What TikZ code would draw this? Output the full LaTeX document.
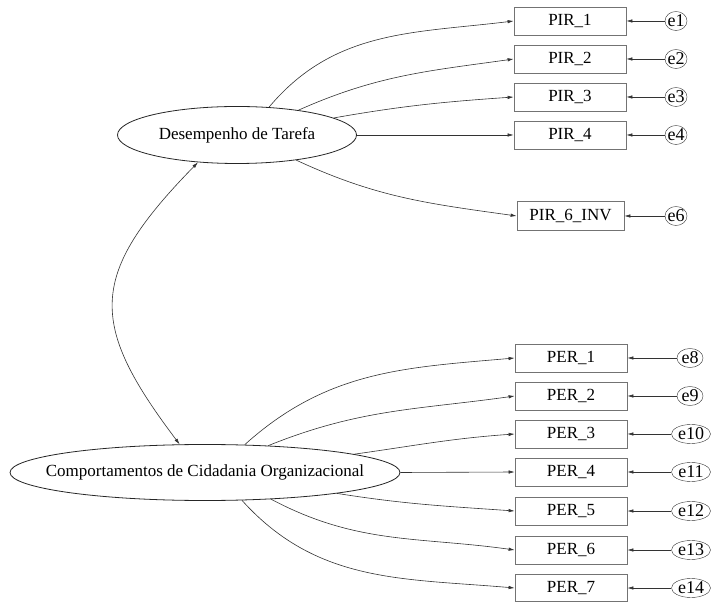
\documentclass[tikz,border=0pt]{standalone}
\usepackage{fontspec}
\setmainfont{Liberation Serif}
\usepackage{tikz}
\usetikzlibrary{shapes.geometric,arrows.meta}

\begin{document}
\begin{tikzpicture}[x=1pt,y=1pt,
    font=\fontsize{17}{20}\selectfont,
    latent/.style={ellipse, draw=black!85, thick, inner sep=0pt},
    obs/.style={rectangle, draw=black!55, thick, inner sep=0pt, minimum width=112pt, minimum height=28pt},
    err/.style={ellipse, draw=black!80, font=\fontsize{18}{20}\selectfont, inner ysep=-3pt, inner xsep=-2pt,
                minimum width=22pt, minimum height=19pt},
    arr/.style={draw=black!80, line width=0.6pt, -{Latex[length=6pt,width=3.5pt]}},
    biarr/.style={draw=black!80, line width=0.6pt, {Latex[length=6pt,width=3.5pt]}-{Latex[length=6pt,width=3.5pt]}}]
  \useasboundingbox (0,0) rectangle (711,602);

  % ---- Latent variables ----
  \node[latent, minimum width=239pt, minimum height=57pt,
        label=center:{Desempenho de Tarefa}] (dt) at (237,467) {};
  \node[latent, minimum width=390pt, minimum height=56pt,
        label=center:{Comportamentos de Cidadania Organizacional}] (cco) at (205,129.5) {};

  % ---- Indicators of Desempenho de Tarefa ----
  \node[obs] (pir1) at (570,581) {PIR\_1};
  \node[obs] (pir2) at (570,543) {PIR\_2};
  \node[obs] (pir3) at (570,505) {PIR\_3};
  \node[obs] (pir4) at (570,467) {PIR\_4};
  \node[obs, minimum width=107pt, minimum height=29pt] (pir6) at (570.5,386) {PIR\_6\_INV};

  \node[err] (e1) at (676,581) {e1};
  \node[err] (e2) at (676,543) {e2};
  \node[err] (e3) at (676,505) {e3};
  \node[err] (e4) at (676,467) {e4};
  \node[err] (e6) at (676,386) {e6};

  \draw[arr] (dt.41.5) to[out=50, in=187] (pir1.west);
  \draw[arr] (dt.22) to[out=24, in=188] (pir2.west);
  \draw[arr] (dt.10.5) to[out=10, in=184] (pir3.west);
  \draw[arr] (dt.east) -- (pir4.west);
  \draw[arr] (dt.-23) to[out=-25, in=172] (pir6.west);

  \draw[arr] (e1) -- (pir1);
  \draw[arr] (e2) -- (pir2);
  \draw[arr] (e3) -- (pir3);
  \draw[arr] (e4) -- (pir4);
  \draw[arr] (e6) -- (pir6);

  % ---- Indicators of Comportamentos de Cidadania Organizacional ----
  \node[obs] (per1) at (571,244) {PER\_1};
  \node[obs] (per2) at (571,206) {PER\_2};
  \node[obs] (per3) at (571,168) {PER\_3};
  \node[obs] (per4) at (571,130) {PER\_4};
  \node[obs] (per5) at (571,91) {PER\_5};
  \node[obs] (per6) at (571,52) {PER\_6};
  \node[obs, minimum height=27pt] (per7) at (571,14) {PER\_7};

  \node[err, minimum width=26pt] (e8) at (690,244) {e8};
  \node[err, minimum width=26pt] (e9) at (690,206) {e9};
  \node[err, minimum width=39pt] (e10) at (691,168) {e10};
  \node[err, minimum width=39pt] (e11) at (691,130) {e11};
  \node[err, minimum width=39pt] (e12) at (691,91) {e12};
  \node[err, minimum width=39pt] (e13) at (691,52) {e13};
  \node[err, minimum width=39pt] (e14) at (691,14) {e14};

  \draw[arr] (cco.35) to[out=42, in=185] (per1.west);
  \draw[arr] (cco.23) to[out=22, in=188] (per2.west);
  \draw[arr] (cco.7.2) to[out=8, in=184] (per3.west);
  \draw[arr] (cco.east) -- (per4.west);
  \draw[arr] (cco.-9) to[out=-9, in=176] (per5.west);
  \draw[arr] (cco.-22) to[out=-28, in=172] (per6.west);
  \draw[arr] (cco.-37) to[out=-48, in=175] (per7.west);

  \draw[arr] (e8) -- (per1);
  \draw[arr] (e9) -- (per2);
  \draw[arr] (e10) -- (per3);
  \draw[arr] (e11) -- (per4);
  \draw[arr] (e12) -- (per5);
  \draw[arr] (e13) -- (per6);
  \draw[arr] (e14) -- (per7);

  % ---- Covariance ----
  \draw[biarr] (dt.215.5) .. controls (88,327) and (88,279) .. (cco.132);
\end{tikzpicture}
\end{document}
